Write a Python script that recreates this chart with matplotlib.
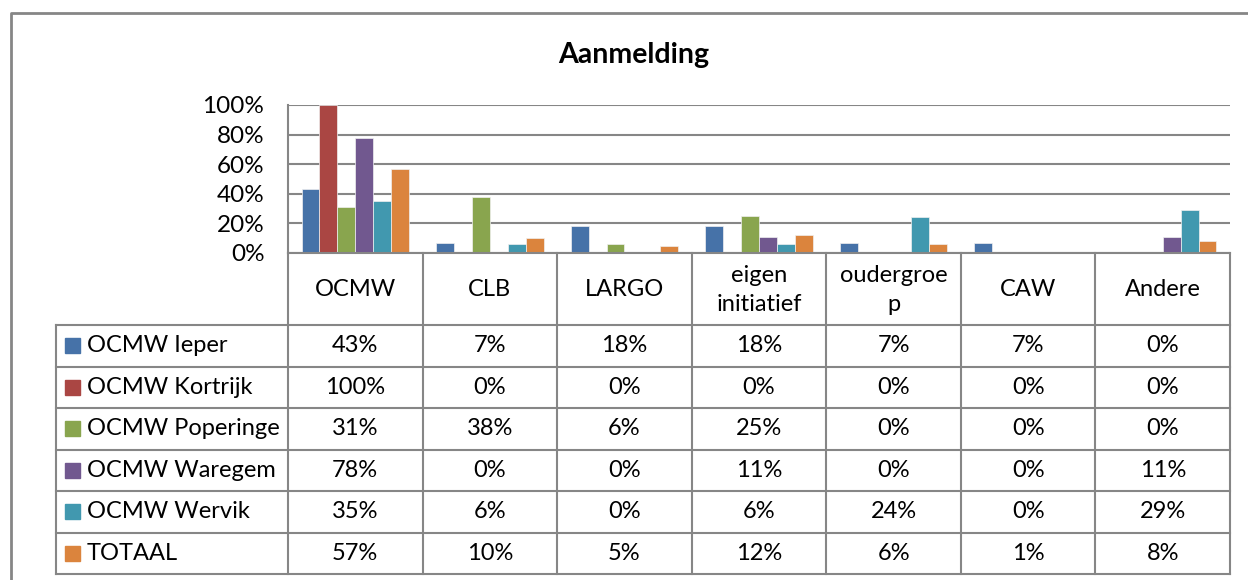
import matplotlib
matplotlib.use("Agg")
import matplotlib.pyplot as plt
import numpy as np

categories = ["OCMW", "CLB", "LARGO", "eigen\ninitiatief", "oudergroe\np", "CAW", "Andere"]
series_names = ["OCMW Ieper", "OCMW Kortrijk", "OCMW Poperinge", "OCMW Waregem", "OCMW Wervik", "TOTAAL"]
ieper = [43, 7, 18, 18, 7, 7, 0]
kortrijk = [100, 0, 0, 0, 0, 0, 0]
poperinge = [31, 38, 6, 25, 0, 0, 0]
waregem = [78, 0, 0, 11, 0, 0, 11]
wervik = [35, 6, 0, 6, 24, 0, 29]
totaal = [57, 10, 5, 12, 6, 1, 8]
yticks = [0, 20, 40, 60, 80, 100]
colors = ["#4672A8", "#AA4643", "#89A54E", "#71588F", "#4198AF", "#DB843D"]
title = "Aanmelding"

series = [ieper, kortrijk, poperinge, waregem, wervik, totaal]

W, H = 1248, 580
plt.rcParams['font.family'] = ['Lato', 'DejaVu Sans']
fig = plt.figure(figsize=(W / 100, H / 100), dpi=100)

grid_c = "#868686"
# plot area in pixels
x0, x1 = 288, 1230
ytop, ybot = 105, 253

ax = fig.add_axes([x0 / W, 1 - ybot / H, (x1 - x0) / W, (ybot - ytop) / H])
n_cat = len(categories)
n_ser = len(series)
bw = 0.133
x = np.arange(n_cat)
for i, (vals, c) in enumerate(zip(series, colors)):
    ax.bar(x + (i - (n_ser - 1) / 2) * bw, vals, width=bw, color=c,
           edgecolor="#f0f0f0", linewidth=0.5, zorder=3)
ax.set_xlim(-0.5, n_cat - 0.5)
ax.set_ylim(0, 100)
ax.set_yticks(yticks)
ax.yaxis.grid(True, color=grid_c, linewidth=1.5, zorder=0)
ax.set_xticks([])
ax.tick_params(axis='y', length=0, pad=17, labelsize=17.5)
ax.set_yticklabels([f"{v}%" for v in yticks])
for s in ["right", "bottom", "top"]:
    ax.spines[s].set_visible(False)
ax.spines["left"].set_color(grid_c)
ax.spines["left"].set_linewidth(1.5)

# overlay in pixel coords
ov = fig.add_axes([0, 0, 1, 1], zorder=5)
ov.set_xlim(0, W)
ov.set_ylim(H, 0)
ov.axis("off")
ov.patch.set_alpha(0)

lw = 1.5
# outer chart border
ov.plot([11, 11, W + 5], [H + 5, 13, 13], color=grid_c, lw=2)

ov.text(634, 55, title, ha="center", va="center", fontsize=20.5, fontweight="bold")

# table geometry
tleft = 56
col_w = (x1 - x0) / n_cat
cols = [x0 + k * col_w for k in range(n_cat + 1)]
head_bot = 325
row_h = 41.5
rows = [head_bot + k * row_h for k in range(n_ser + 1)]

# horizontal lines
ov.plot([x0, x1], [ybot, ybot], color=grid_c, lw=lw)
for r in rows:
    ov.plot([tleft, x1], [r, r], color=grid_c, lw=lw)
# vertical lines
for c in cols:
    ov.plot([c, c], [ybot, rows[-1]], color=grid_c, lw=lw)
ov.plot([tleft, tleft], [head_bot, rows[-1]], color=grid_c, lw=lw)

fs = 17
# header
for k, cat in enumerate(categories):
    ov.text((cols[k] + cols[k + 1]) / 2, (ybot + head_bot) / 2 + 1, cat, ha="center",
            va="center", fontsize=fs, linespacing=1.45)

# rows
for i, (name, vals, c) in enumerate(zip(series_names, series, colors)):
    yc = (rows[i] + rows[i + 1]) / 2
    ov.add_patch(plt.Rectangle((65, yc - 7.5), 15, 15, color=c))
    ov.text(87, yc, name, ha="left", va="center", fontsize=fs)
    for k, v in enumerate(vals):
        ov.text((cols[k] + cols[k + 1]) / 2, yc, f"{v}%", ha="center", va="center", fontsize=fs)

fig.savefig("out.png", dpi=100)
